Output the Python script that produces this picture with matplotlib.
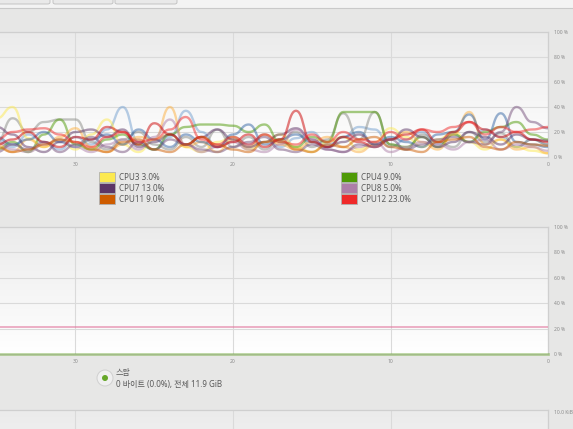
import numpy as np
import matplotlib
matplotlib.use("Agg")
import matplotlib.pyplot as plt
from matplotlib.patches import Rectangle, Ellipse, FancyBboxPatch
from matplotlib.colors import LinearSegmentedColormap

plt.rcParams['font.family'] = ['Noto Sans', 'Noto Sans CJK KR', 'DejaVu Sans']

# ---------------- data ----------------
seconds = list(range(35, -1, -1))          # 35 s ago ... now
x_tick_values = [30, 20, 10, 0]
x_tick_labels = ["30", "20", "10", "0"]
pct_ticks = [0, 20, 40, 60, 80, 100]
pct_labels = ["0 %", "20 %", "40 %", "60 %", "80 %", "100 %"]

cpu_names = ["CPU1", "CPU2", "CPU3", "CPU4", "CPU5", "CPU6",
             "CPU7", "CPU8", "CPU9", "CPU10", "CPU11", "CPU12"]
cpu_colors = ["#729fcf", "#888a85", "#fce94f", "#4e9a06", "#fcaf3e", "#3465a4",
              "#5c3566", "#ad7fa8", "#cc0000", "#75507b", "#ce5c00", "#ef2929"]

cpu1 = [14, 8, 18, 12, 6, 16, 10, 22, 40, 12, 6, 16, 37, 20, 8, 16, 10, 18, 8, 15, 20, 10, 16, 24, 22, 8, 14, 20, 10, 18, 12, 22, 16, 8, 14, 10]
cpu2 = [12, 31, 20, 28, 30, 30, 12, 6, 14, 20, 10, 6, 16, 8, 22, 8, 16, 6, 14, 20, 8, 14, 35, 14, 36, 10, 6, 18, 12, 8, 20, 12, 19, 8, 14, 10]
cpu3 = [31, 40, 15, 8, 14, 6, 18, 30, 10, 4, 14, 18, 8, 4, 12, 16, 6, 12, 18, 8, 4, 12, 16, 6, 12, 23, 16, 8, 14, 20, 12, 6, 14, 8, 5, 3]
cpu4 = [6, 12, 4, 18, 30, 10, 6, 14, 18, 10, 6, 18, 24, 26, 26, 25, 20, 26, 12, 8, 16, 12, 36, 36, 36, 10, 8, 16, 8, 18, 12, 20, 24, 28, 18, 14]
cpu5 = [10, 4, 14, 8, 16, 23, 8, 4, 10, 16, 14, 40, 8, 12, 4, 14, 8, 18, 10, 6, 12, 16, 8, 4, 10, 14, 20, 12, 6, 18, 36, 10, 14, 6, 8, 3]
cpu6 = [16, 10, 14, 20, 12, 8, 14, 18, 10, 22, 14, 8, 18, 12, 8, 18, 26, 10, 14, 18, 12, 8, 16, 20, 10, 16, 12, 8, 18, 20, 34, 14, 35, 12, 10, 8]
cpu7 = [24, 18, 8, 4, 12, 20, 22, 16, 22, 8, 12, 18, 10, 16, 22, 14, 8, 12, 18, 23, 14, 8, 12, 18, 10, 14, 22, 16, 8, 12, 20, 16, 10, 18, 14, 13]
cpu8 = [12, 6, 4, 10, 14, 8, 4, 10, 14, 6, 16, 30, 10, 4, 8, 12, 6, 4, 10, 22, 14, 6, 4, 8, 12, 4, 8, 12, 10, 6, 12, 14, 6, 10, 8, 5]
cpu9 = [10, 14, 20, 12, 8, 16, 14, 24, 20, 10, 27, 18, 10, 16, 8, 12, 18, 8, 14, 37, 12, 8, 16, 12, 8, 14, 18, 22, 12, 20, 28, 22, 16, 20, 14, 12]
cpu10 = [4, 10, 6, 12, 4, 10, 16, 8, 4, 12, 6, 14, 10, 6, 4, 8, 12, 16, 6, 4, 10, 6, 4, 10, 8, 14, 6, 10, 14, 16, 12, 10, 20, 40, 28, 23]
cpu11 = [8, 4, 6, 10, 14, 12, 6, 4, 12, 14, 6, 4, 10, 16, 10, 6, 4, 12, 14, 6, 4, 10, 8, 14, 16, 8, 6, 4, 12, 14, 16, 8, 6, 12, 10, 9]
cpu12 = [14, 20, 22, 23, 18, 12, 8, 16, 20, 12, 14, 22, 32, 14, 10, 16, 10, 18, 12, 10, 18, 12, 20, 14, 12, 20, 14, 22, 20, 24, 28, 18, 24, 20, 22, 24]
cpu_series = [cpu1, cpu2, cpu3, cpu4, cpu5, cpu6, cpu7, cpu8, cpu9, cpu10, cpu11, cpu12]

# visible legend entries (columns 3 and 4 of the legend)
legend_left = ["CPU3", "CPU7", "CPU11"]
legend_left_vals = ["3.0%", "13.0%", "9.0%"]
legend_right = ["CPU4", "CPU8", "CPU12"]
legend_right_vals = ["9.0%", "5.0%", "23.0%"]

memory_pct = [21.6] * 36
swap_pct = [0.0] * 36
swap_title = "스왑"
swap_text = "0 바이트 (0.0%), 전체 11.9 GiB"
net_label = "10.0 KiB/s"

# ---------------- figure ----------------
W, H = 573, 429
BG = "#e7e7e6"
fig = plt.figure(figsize=(W / 100, H / 100), dpi=100, facecolor=BG)

def fx(x):
    return x / W

def fy(y):
    return 1 - y / H

# top strip with tab buttons
fig.add_artist(Rectangle((0, fy(8)), 1, 8 / H, transform=fig.transFigure,
                         facecolor="#f3f3f3", edgecolor="none", zorder=0))
fig.add_artist(plt.Line2D([0, 1], [fy(8), fy(8)], transform=fig.transFigure,
                          color="#c9c9c9", lw=0.8))
for x0, x1 in [(-2, 50), (53, 113), (115, 177)]:
    fig.add_artist(FancyBboxPatch((fx(x0), fy(4)), (x1 - x0) / W, 8 / H,
                                  boxstyle="round,pad=0,rounding_size=0.004",
                                  transform=fig.transFigure,
                                  facecolor="#e9e9e9", edgecolor="#bdbdbd", lw=0.6))

grad_cmap = LinearSegmentedColormap.from_list("g", ["#ffffff", "#ebebeb"])


def smooth(xs, ys, n=16):
    """gnome-system-monitor style bezier: horizontal tangents at samples"""
    xs = np.asarray(xs, float)
    ys = np.asarray(ys, float)
    t = np.linspace(0, 1, n)
    b0 = (1 - t) ** 3
    b1 = 3 * (1 - t) ** 2 * t
    b2 = 3 * (1 - t) * t ** 2
    b3 = t ** 3
    ox, oy = [], []
    for i in range(len(xs) - 1):
        x0, x1, y0, y1 = xs[i], xs[i + 1], ys[i], ys[i + 1]
        dx = x1 - x0
        ox.append(b0 * x0 + b1 * (x0 + dx / 2) + b2 * (x1 - dx / 2) + b3 * x1)
        oy.append((b0 + b1) * y0 + (b2 + b3) * y1)
    return np.concatenate(ox), np.concatenate(oy)


def setup_axes(top, bottom, yt, ytl, ylim=(0, 100)):
    ax = fig.add_axes([0, fy(bottom), 548 / W, (bottom - top) / H])
    ax.set_xlim(548 / 15.75, 0)
    ax.set_ylim(*ylim)
    ax.imshow(np.linspace(0, 1, 256)[:, None], extent=[0, 1, 0, 1],
              transform=ax.transAxes, aspect="auto", cmap=grad_cmap,
              origin="lower", zorder=0)
    ax.set_facecolor("white")
    ax.set_xticks(x_tick_values)
    ax.set_xticklabels(x_tick_labels)
    ax.set_yticks(yt)
    ax.set_yticklabels(ytl)
    ax.yaxis.tick_right()
    ax.tick_params(axis="both", length=0, labelsize=3.6, colors="#8a8a8a")
    ax.tick_params(axis="y", pad=4)
    ax.tick_params(axis="x", pad=3.5)
    for lbl in ax.get_yticklabels():
        lbl.set_horizontalalignment("left")
    ax.grid(True, color="#dadada", lw=0.8, zorder=1)
    for s in ["top", "right", "bottom"]:
        ax.spines[s].set_color("#cfcfcf")
        ax.spines[s].set_linewidth(0.9)
    ax.spines["left"].set_visible(False)
    return ax

# CPU panel
ax_cpu = setup_axes(32, 157, pct_ticks, pct_labels)
for vals, col in zip(cpu_series, cpu_colors):
    sx, sy = smooth(seconds, vals)
    ax_cpu.plot(sx, sy, color=col, lw=1.7, alpha=0.5, zorder=3,
                solid_capstyle="round")

# CPU legend (visible part)
for k in range(3):
    y = 172 + 11 * k
    for xs, names, vals in [(99, legend_left, legend_left_vals),
                            (341, legend_right, legend_right_vals)]:
        name = names[k]
        col = cpu_colors[cpu_names.index(name)]
        fig.add_artist(Rectangle((fx(xs), fy(y + 10)), 16 / W, 10 / H,
                                 transform=fig.transFigure, facecolor=col,
                                 edgecolor="#b0b0b0", lw=0.6))
        fig.text(fx(xs + 20), fy(y + 5.3), f"{name} {vals[k]}", fontsize=5.8,
                 color="#5a5a5a", va="center", ha="left")

# Memory / swap panel
ax_mem = setup_axes(227, 354, pct_ticks, pct_labels)
sx, sy = smooth(seconds, memory_pct)
ax_mem.plot(sx, sy, color="#e0709a", lw=1.4, alpha=0.55, zorder=3)
sx, sy = smooth(seconds, swap_pct)
ax_mem.plot(sx, sy, color="#4e9a06", lw=2.0, alpha=0.35, zorder=3, clip_on=False)

# swap legend
fig.add_artist(Ellipse((fx(105), fy(378)), 16 / W, 16 / H, transform=fig.transFigure,
                       facecolor="#f0f0f0", edgecolor="#d0d0d0", lw=0.7))
fig.add_artist(Ellipse((fx(105), fy(378)), 6 / W, 6 / H, transform=fig.transFigure,
                       facecolor="#4e9a06", edgecolor="none", alpha=0.85))
fig.text(fx(116), fy(372.5), swap_title, fontsize=5.8, color="#5a5a5a",
         va="center", ha="left")
fig.text(fx(116), fy(384), swap_text, fontsize=5.8, color="#5a5a5a",
         va="center", ha="left")

# Network panel (top only visible)
ax_net = setup_axes(410, 540, [10], [net_label], ylim=(0, 10))
ax_net.set_xticklabels([])
ax_net.grid(True, axis="x", color="#dadada", lw=0.8)
ax_net.grid(False, axis="y")
ax_net.spines["bottom"].set_visible(False)
for lbl in ax_net.get_yticklabels():
    lbl.set_verticalalignment("top")

fig.savefig("out.png", dpi=100, facecolor=BG)
